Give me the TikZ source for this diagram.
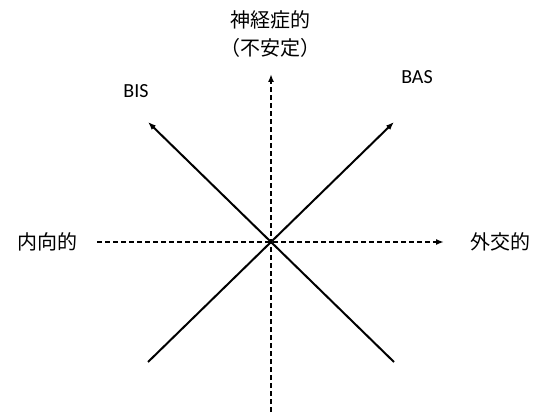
\documentclass[tikz,border=0pt]{standalone}
\usepackage{fontspec}
\setmainfont{Carlito}
\newfontfamily\jpfont{Noto Sans CJK JP}
\usetikzlibrary{arrows.meta}
\tikzset{
  axislabel/.style={inner sep=0pt, font=\fontsize{20}{24}\selectfont\jpfont},
  traitlabel/.style={inner sep=0pt, font=\fontsize{20}{24}\selectfont},
  dimline/.style={line width=2pt, dash pattern=on 5pt off 3pt, -{Latex[length=8pt,width=6pt]}},
  sysline/.style={line width=2pt, -{Latex[length=8pt,width=6pt]}},
}
\begin{document}
\begin{tikzpicture}[x=1pt, y=1pt]
  \useasboundingbox (0,0) rectangle (545,412);

  % -- the crossing point and the free line ends ---------------------------
  \coordinate (c)    at (271,170);
  \coordinate (top)  at (271,338);
  \coordinate (bot)  at (271,0);
  \coordinate (lft)  at (97,170);
  \coordinate (rgt)  at (444,170);
  \coordinate (ul)   at (148,290);
  \coordinate (ur)   at (394,290);
  \coordinate (ll)   at (148,50);
  \coordinate (lr)   at (394,50);

  % -- the labels -----------------------------------------------------------
  \node[axislabel] (neuro) at (270,392) {神経症的};
  \node[axislabel] (unst)  at (270,364) {（不安定）};
  \node[axislabel] (intro) at (47,170)  {内向的};
  \node[axislabel] (extra) at (500,170) {外交的};
  \node[traitlabel] (bis) at (136,321) {BIS};
  \node[traitlabel] (bas) at (417,335) {BAS};

  % -- the two dashed axes --------------------------------------------------
  \draw[dimline] (bot) -- (top);
  \draw[dimline] (lft) -- (rgt);

  % -- the two diagonal systems ---------------------------------------------
  \draw[sysline] (lr) -- (ul);
  \draw[sysline] (ll) -- (ur);

\end{tikzpicture}
\end{document}
